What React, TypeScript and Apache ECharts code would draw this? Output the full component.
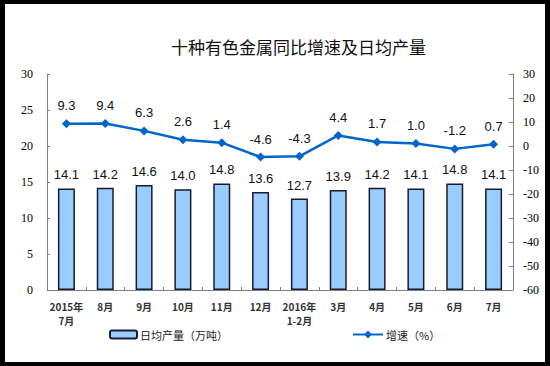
import React, { useEffect, useRef } from "react";
import * as echarts from "echarts";

const categories = [
  "2015年\n7月", "8月", "9月", "10月", "11月", "12月",
  "2016年\n1-2月", "3月", "4月", "5月", "6月", "7月",
];
const dailyOutput = [14.1, 14.2, 14.6, 14.0, 14.8, 13.6, 12.7, 13.9, 14.2, 14.1, 14.8, 14.1];
const growth = [9.3, 9.4, 6.3, 2.6, 1.4, -4.6, -4.3, 4.4, 1.7, 1.0, -1.2, 0.7];
const barName = "日均产量（万吨）";
const lineName = "增速（%）";
const titleText = "十种有色金属同比增速及日均产量";

export default function App() {
  const ref = useRef<HTMLDivElement>(null);
  useEffect(() => {
    if (!ref.current) return;
    const chart = echarts.init(ref.current, null, { renderer: "svg" });
    const serif = "'Liberation Serif', 'Times New Roman', serif";
    const sans = "'Liberation Sans', Arial, sans-serif";
    const cjk = "'Noto Sans CJK SC', sans-serif";
    chart.setOption({
      animation: false,
      backgroundColor: "#ffffff",
      title: {
        text: titleText,
        left: 166,
        top: 33,
        textStyle: { fontFamily: cjk, fontSize: 17, fontWeight: "normal", color: "#111" },
      },
      graphic: [
        { type: "rect", shape: { x: 0, y: 0, width: 550, height: 4 }, style: { fill: "#000" } },
        { type: "rect", shape: { x: 0, y: 0, width: 5, height: 366 }, style: { fill: "#000" } },
        { type: "rect", shape: { x: 545, y: 0, width: 5, height: 366 }, style: { fill: "#000" } },
        { type: "rect", shape: { x: 0, y: 362, width: 550, height: 4 }, style: { fill: "#000" } },
      ],
      legend: [
        {
          data: [barName],
          left: 104,
          top: 324,
          itemWidth: 27,
          itemHeight: 8,
          itemGap: 4,
          textStyle: { fontFamily: cjk, fontSize: 11, color: "#222", padding: [0, 0, 0, -2] },
        },
        {
          data: [lineName],
          left: 347,
          top: 324,
          itemWidth: 30,
          itemHeight: 10,
          textStyle: { fontFamily: cjk, fontSize: 11, color: "#222", padding: [0, 0, 0, -2] },
        },
      ],
      grid: { left: 47, right: 37, top: 74, bottom: 76, containLabel: false },
      xAxis: {
        type: "category",
        data: categories,
        axisLine: { show: true, lineStyle: { color: "#808080", width: 1 } },
        axisTick: { show: true, inside: true, length: 3, alignWithLabel: false, lineStyle: { color: "#808080" } },
        axisLabel: {
          interval: 0,
          margin: 9,
          fontFamily: cjk,
          fontSize: 10,
          fontWeight: "bold",
          color: "#333",
          lineHeight: 14,
        },
      },
      yAxis: [
        {
          type: "value",
          min: 0,
          max: 30,
          interval: 5,
          axisLine: { show: true, lineStyle: { color: "#808080" } },
          axisTick: { show: true, inside: true, length: 3, lineStyle: { color: "#808080" } },
          splitLine: { show: false },
          axisLabel: { fontFamily: serif, fontSize: 12, color: "#000", margin: 14 },
        },
        {
          type: "value",
          min: -60,
          max: 30,
          interval: 10,
          position: "right",
          axisLine: { show: true, lineStyle: { color: "#808080" } },
          axisTick: { show: true, inside: true, length: 4, lineStyle: { color: "#808080" } },
          splitLine: { show: false },
          axisLabel: { fontFamily: serif, fontSize: 12, color: "#000", margin: 10 },
        },
      ],
      series: [
        {
          name: barName,
          type: "bar",
          data: dailyOutput,
          barWidth: 17,
          itemStyle: { color: "#99CCFF", borderColor: "#1a1a33", borderWidth: 1.5 },
          label: {
            show: true,
            position: "top",
            distance: 7,
            fontFamily: sans,
            fontSize: 13,
            color: "#111",
            formatter: (p: any) => Number(p.value).toFixed(1),
          },
        },
        {
          name: lineName,
          type: "line",
          yAxisIndex: 1,
          data: growth,
          symbol: "diamond",
          symbolSize: 9,
          lineStyle: { color: "#0066CC", width: 2.5 },
          itemStyle: { color: "#0066CC" },
          label: {
            show: true,
            position: "top",
            distance: 7,
            fontFamily: sans,
            fontSize: 13,
            color: "#111",
            formatter: (p: any) => Number(p.value).toFixed(1),
          },
        },
      ],
    });
    return () => chart.dispose();
  }, []);
  return (
    <div
      ref={ref}
      style={{ position: "absolute", left: 0, top: 0, width: 550, height: 366 }}
    />
  );
}
